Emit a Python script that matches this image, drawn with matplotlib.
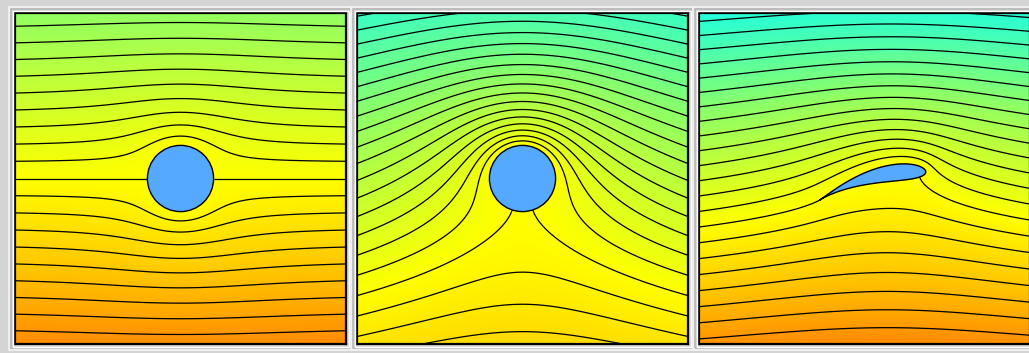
"""
Potential flow streamlines: cylinder, cylinder with circulation, Joukowski airfoil.
Writes out.png (1029x353).
"""

import numpy as np
import matplotlib
matplotlib.use("Agg")
import matplotlib.pyplot as plt
from matplotlib.colors import LinearSegmentedColormap, TwoSlopeNorm
from matplotlib.patches import Circle, Polygon, Rectangle

# ── figure / layout (pixels) ─────────────────────────────────
FIG_W, FIG_H = 1029, 353
PANEL_X      = [15, 357, 699]     # left edge of each plot box
PANEL_Y      = 13                 # top edge of plot boxes
PANEL_SIZE   = 331
BG           = "#d4d4d4"
BODY_COLOR   = "#55aaff"

# ── flow parameters ──────────────────────────────────────────
HALF_WIDTHS  = [5.0, 5.0, 5.5]    # domain of each panel is [-h, h]^2
U            = 1.0                # free stream speed
R            = 1.0                # cylinder radius
GAMMA_2PI    = 1.9                # circulation / 2pi for panel 2
LEVEL_STEP   = 0.5                # stream function spacing between lines

# Joukowski airfoil (panel 3)
FOIL_C       = 0.90               # Joukowski constant
FOIL_THICK   = 0.13               # centre shift along -x  (fraction of c)
FOIL_CAMBER  = 0.18               # centre shift along +y  (fraction of c)
FOIL_ALPHA   = 15.0               # angle of attack, deg
FOIL_SHIFT   = (-0.25, -0.25)     # airfoil offset before mirroring

# colour scale: orange -> yellow (psi = 0) -> green -> cyan
CMAP_COLORS  = ["#ff8000", "#ffc400", "#ffff00", "#90ff64", "#20ffe0"]
PSI_RANGES   = [(-5.4, 10.0), (-5.4, 9.7), (-4.3, 7.4)]

N = 700


def grid(h):
    v = np.linspace(-h, h, N)
    return np.meshgrid(v, v)


def psi_cylinder(h, gamma_2pi):
    X, Y = grid(h)
    r2 = X**2 + Y**2
    psi = U * Y * (1 - R**2 / r2) + gamma_2pi * 0.5 * np.log(r2 / R**2)
    psi[r2 < R**2] = np.nan
    return X, Y, psi


def psi_airfoil(h):
    X, Y = grid(h)
    c = FOIL_C
    mu = c * (-FOIL_THICK + 1j * FOIL_CAMBER)
    a = abs(c - mu)
    beta = np.arctan2(FOIL_CAMBER, 1 + FOIL_THICK)
    al = np.radians(FOIL_ALPHA)
    gamma = 4 * np.pi * U * a * np.sin(al + beta)
    z0 = FOIL_SHIFT[0] + 1j * FOIL_SHIFT[1]

    # mirrored picture: sharp edge on the left
    zp = -X + 1j * Y
    za = (zp - z0) * np.exp(1j * al)
    root = np.sqrt(za**2 / 4 - c**2 + 0j)
    z1 = za / 2 + root
    z2 = za / 2 - root
    pick = np.abs(z1 - mu) >= np.abs(z2 - mu)
    zeta = np.where(pick, z1, z2)
    inside = np.abs(zeta - mu) < a * 1.0005

    s = zeta - mu
    W = U * (s * np.exp(-1j * al) + a**2 * np.exp(1j * al) / s) \
        + 1j * gamma / (2 * np.pi) * np.log(s)
    psi = W.imag - gamma / (2 * np.pi) * np.log(a)
    psi[inside] = np.nan

    th = np.linspace(0, 2 * np.pi, 400)
    zc = mu + a * np.exp(1j * th)
    zf = (zc + c**2 / zc) * np.exp(-1j * al) + z0
    outline = np.column_stack([-zf.real, zf.imag])
    return X, Y, psi, outline


def frame(fig, x0):
    # bevelled frame round a plot box, in pixels
    def box(x, y, w, h, color, lw):
        fig.add_artist(Rectangle((x / FIG_W, 1 - (y + h) / FIG_H), w / FIG_W, h / FIG_H,
                                 transform=fig.transFigure, fill=False,
                                 edgecolor=color, lw=lw))
    box(x0 - 6, PANEL_Y - 6, PANEL_SIZE + 12, PANEL_SIZE + 12, "#f4f4f4", 1.2)
    box(x0 - 4, PANEL_Y - 4, PANEL_SIZE + 8, PANEL_SIZE + 8, "#b8b8b8", 1.2)
    box(x0 - 2.5, PANEL_Y - 2.5, PANEL_SIZE + 5, PANEL_SIZE + 5, "#ffffff", 1.0)


def panel(fig, x0, h, X, Y, psi, body, cmap, prange):
    norm = TwoSlopeNorm(vmin=prange[0], vcenter=0.0, vmax=prange[1])
    ax = fig.add_axes([x0 / FIG_W, 1 - (PANEL_Y + PANEL_SIZE) / FIG_H,
                       PANEL_SIZE / FIG_W, PANEL_SIZE / FIG_H])
    ax.imshow(psi, origin="lower", cmap=cmap, norm=norm, interpolation="bilinear",
              extent=[-h, h, -h, h])
    lo = np.floor(np.nanmin(psi) / LEVEL_STEP) * LEVEL_STEP
    hi = np.ceil(np.nanmax(psi) / LEVEL_STEP) * LEVEL_STEP
    levels = np.arange(lo, hi + LEVEL_STEP, LEVEL_STEP)
    ax.contour(X, Y, psi, levels=levels, colors="black", linewidths=0.9,
               linestyles="solid")
    ax.add_patch(body)
    ax.set_xlim(-h, h)
    ax.set_ylim(-h, h)
    ax.set_xticks([])
    ax.set_yticks([])
    for s in ax.spines.values():
        s.set_color("black")
        s.set_linewidth(1.6)
    return ax


def main():
    fig = plt.figure(figsize=(FIG_W / 100, FIG_H / 100), dpi=100, facecolor=BG)
    cmap = LinearSegmentedColormap.from_list("flow", CMAP_COLORS)

    for x0 in PANEL_X:
        frame(fig, x0)

    h = HALF_WIDTHS[0]
    X, Y, psi = psi_cylinder(h, 0.0)
    panel(fig, PANEL_X[0], h, X, Y, psi,
          Circle((0, 0), R, facecolor=BODY_COLOR, edgecolor="black", lw=1.0),
          cmap, PSI_RANGES[0])

    h = HALF_WIDTHS[1]
    X, Y, psi = psi_cylinder(h, GAMMA_2PI)
    panel(fig, PANEL_X[1], h, X, Y, psi,
          Circle((0, 0), R, facecolor=BODY_COLOR, edgecolor="black", lw=1.0),
          cmap, PSI_RANGES[1])

    h = HALF_WIDTHS[2]
    X, Y, psi, outline = psi_airfoil(h)
    panel(fig, PANEL_X[2], h, X, Y, psi,
          Polygon(outline, closed=True, facecolor=BODY_COLOR, edgecolor="black", lw=1.0),
          cmap, PSI_RANGES[2])

    fig.savefig("out.png", dpi=100, facecolor=BG)


if __name__ == "__main__":
    main()
